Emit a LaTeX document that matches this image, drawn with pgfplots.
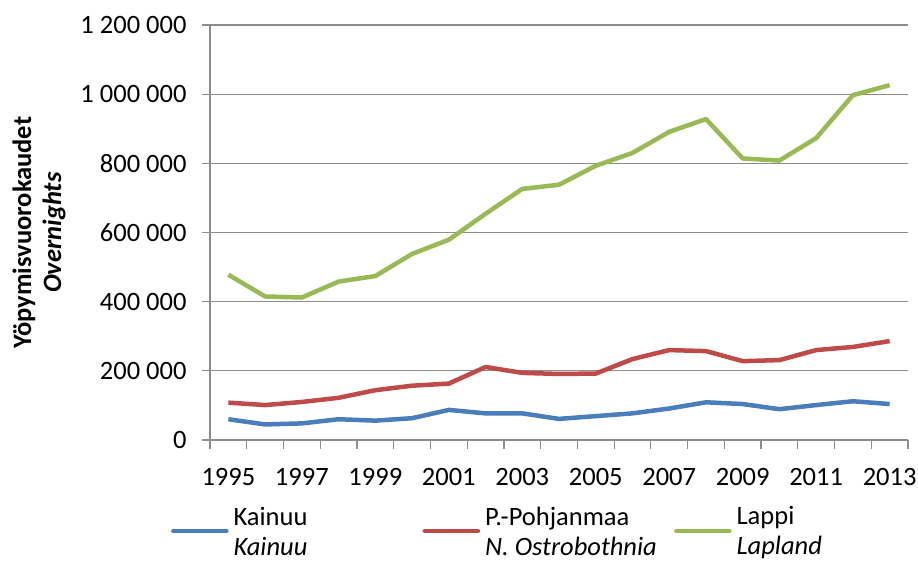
\documentclass[border=0pt]{standalone}
\usepackage{fontspec}
\setmainfont{Carlito}
\usepackage{pgfplots}
\pgfplotsset{compat=1.18}
\definecolor{kblue}{HTML}{4A7EBB}
\definecolor{kred}{HTML}{BE4B48}
\definecolor{kgreen}{HTML}{98B954}
\definecolor{gridgray}{HTML}{8C8C8C}
\newcommand{\bigfont}{\fontsize{26.5bp}{30bp}\selectfont}
\begin{document}
\begin{tikzpicture}[x=1bp,y=1bp]
\path[use as bounding box] (0,0) rectangle (918,561);
\begin{axis}[
  at={(210bp,121bp)}, anchor=south west,
  scale only axis, width=698bp, height=415bp,
  xmin=1994.5, xmax=2013.5, ymin=0, ymax=1200000,
  axis x line*=bottom, axis y line*=left,
  axis line style={gridgray, line width=1.2bp},
  tick align=outside,
  xtick={1995,1997,1999,2001,2003,2005,2007,2009,2011,2013},
  xticklabels={1995,1997,1999,2001,2003,2005,2007,2009,2011,2013},
  minor xtick={1994.5,1995.5,1996.5,1997.5,1998.5,1999.5,2000.5,2001.5,2002.5,2003.5,2004.5,2005.5,2006.5,2007.5,2008.5,2009.5,2010.5,2011.5,2012.5,2013.5},
  major x tick style={draw=none},
  minor x tick style={gridgray, line width=1.2bp},
  minor tick length=9bp,
  ytick={0,200000,400000,600000,800000,1000000,1200000},
  yticklabels={0,200 000,400 000,600 000,800 000,1 000 000,1 200 000},
  scaled y ticks=false,
  major tick length=8bp,
  y tick style={gridgray, line width=1.2bp},
  ymajorgrids, grid style={gridgray, line width=1.2bp},
  ticklabel style={font=\bigfont, text=black},
  xticklabel style={yshift=-17bp},
  yticklabel style={xshift=-12bp},
  ylabel={\textbf{Yöpymisvuorokaudet}\\\textbf{\textit{Overnights}}},
  ylabel style={font=\bigfont, align=center, at={(rel axis cs:-0.245,0.5)}, anchor=center},
  legend columns=3,
  legend style={draw=none, fill=none, font=\bigfont, inner sep=0pt,
    at={(rel axis cs:-0.056,-0.219)}, anchor=west,
    nodes={inner sep=0pt},
    column sep=0pt,
    /tikz/every odd column/.append style={column sep=5bp}},
  legend image code/.code={\draw[#1, line cap=round] (0bp,0bp) -- (53bp,0bp);},
  every axis plot/.append style={line width=4.5bp, line join=round, mark=none},
]
\addplot[kblue] coordinates {
(1995,60000) (1996,45000) (1997,48000) (1998,60000) (1999,56000) (2000,63000)
(2001,87000) (2002,77000) (2003,77000) (2004,61000) (2005,69000) (2006,77000)
(2007,91000) (2008,109000) (2009,104000) (2010,89000) (2011,101000) (2012,112000) (2013,104000)};
\addlegendentry{\raisebox{15bp}{\parbox{189bp}{\bigfont Kainuu\\\textit{Kainuu}}}}
\addplot[kred] coordinates {
(1995,108000) (1996,101000) (1997,110000) (1998,122000) (1999,144000) (2000,157000)
(2001,163000) (2002,211000) (2003,194000) (2004,191000) (2005,192000) (2006,234000)
(2007,260000) (2008,257000) (2009,228000) (2010,231000) (2011,260000) (2012,269000) (2013,286000)};
\addlegendentry{\raisebox{15bp}{\parbox{189bp}{\bigfont P.-Pohjanmaa\\\textit{N. Ostrobothnia}}}}
\addplot[kgreen] coordinates {
(1995,478000) (1996,415000) (1997,412000) (1998,458000) (1999,474000) (2000,538000)
(2001,579000) (2002,654000) (2003,726000) (2004,738000) (2005,793000) (2006,830000)
(2007,891000) (2008,928000) (2009,814000) (2010,808000) (2011,873000) (2012,997000) (2013,1026000)};
\addlegendentry{\raisebox{15bp}{\parbox{189bp}{\bigfont Lappi\\\textit{Lapland}}}}
\end{axis}
\end{tikzpicture}
\end{document}
